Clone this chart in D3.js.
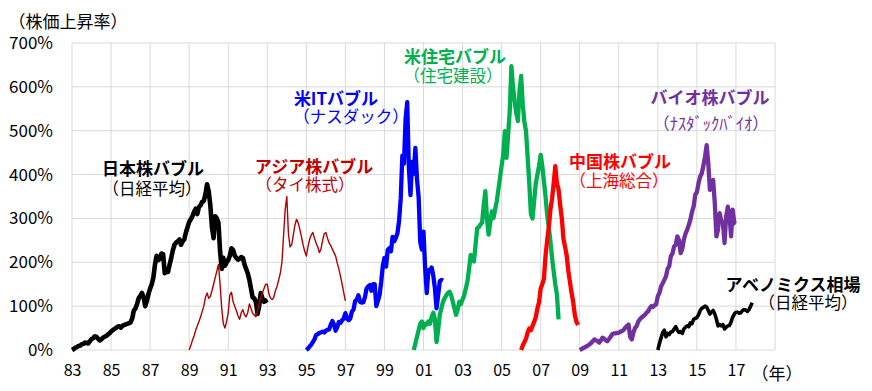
<!DOCTYPE html>
<html><head><meta charset="utf-8">
<script src="https://cdn.jsdelivr.net/npm/d3@7"></script>
<style>
html,body{margin:0;padding:0;background:#fff;}
svg text{font-family:"Noto Sans CJK JP","Noto Sans",sans-serif;}
</style></head>
<body><svg id="c" width="872" height="391"></svg>
<script>
// ---- data (percent rise, monthly points) ----
const yTicks = [0,100,200,300,400,500,600,700];
const xTickYears = [1983,1985,1987,1989,1991,1993,1995,1997,1999,2001,2003,2005,2007,2009,2011,2013,2015,2017];
const xTickLabels = ["83","85","87","89","91","93","95","97","99","01","03","05","07","09","11","13","15","17"];

const japanStart = 1983.0;
const japanValues = [
 0,2,5,7,9,10,13,14,17,16,15,20,
 25,27,31,30,26,22,24,28,30,32,35,38,
 42,45,48,50,53,54,51,55,57,58,60,61,
 63,72,90,95,105,118,124,130,120,100,112,128,
 140,150,165,195,215,205,208,220,218,175,182,178,
 195,210,228,240,245,248,252,240,248,252,268,280,
 292,298,305,315,322,310,326,330,338,340,355,378,
 362,330,280,255,305,300,290,225,185,210,192,200,
 205,215,232,228,215,210,206,208,212,210,195,185,
 175,160,140,120,118,110,82,100,130,118,110,112,
 115];

const asiaStart = 1989.0;
const asiaValues = [
 0,10,22,32,45,55,65,75,88,100,120,130,
 118,122,135,150,165,180,195,150,95,60,50,65,
 85,125,132,110,100,90,78,70,85,92,80,76,
 85,105,95,84,80,76,90,108,120,130,140,150,
 150,128,118,115,120,135,145,160,175,200,260,320,
 350,265,235,240,262,285,298,290,275,258,240,225,
 214,235,252,262,268,255,244,235,222,230,250,265,
 268,255,244,238,230,222,214,198,185,168,150,130,
 112];

const nasdaqStart = 1995.0;
const nasdaqValues = [
 0,3,8,12,18,24,34,36,39,40,42,40,
 44,46,47,58,66,58,44,52,64,62,68,72,
 84,72,68,72,88,92,112,115,125,110,108,109,
 120,140,145,148,135,150,150,100,112,125,155,192,
 210,190,228,232,225,258,248,256,266,295,345,443,
 425,527,565,415,353,429,402,461,390,349,246,229,
 270,187,130,182,181,188,170,141,95,125,157,160,
 158];

const housingStart = 2000.5;
const housingValues = [
 0,15,30,45,60,65,
 50,60,58,65,60,75,85,70,18,45,80,95,
 110,118,125,130,133,125,110,95,80,92,110,105,
 115,125,140,156,185,217,205,202,240,278,280,286,
 290,330,362,300,263,290,316,301,320,339,365,392,
 420,445,499,438,490,545,647,600,567,540,522,590,
 625,560,520,499,440,380,310,300,340,380,400,420,
 445,420,385,350,308,280,248,210,179,150,126,70];

const chinaStart = 2006.0;
const chinaValues = [
 0,10,18,26,40,49,45,55,64,75,95,109,
 140,150,162,215,250,280,320,345,380,419,380,366,
 330,300,253,235,215,180,155,130,109,80,64,57];

const bioStart = 2009.0;
const bioValues = [
 0,2,4,6,8,10,13,16,20,24,22,20,
 17,22,28,26,22,20,25,30,36,38,38,39,
 39,42,43,46,51,55,58,30,24,40,50,55,
 65,70,74,77,80,85,88,95,100,98,102,104,
 123,130,145,152,160,168,185,191,214,220,236,240,
 259,250,221,230,252,265,274,285,297,315,327,354,
 360,380,395,403,420,441,467,426,365,375,388,335,
 259,275,312,295,289,244,305,327,310,259,320,290,
 288];

const abeStart = 2013.0;
const abeValues = [
 0,15,28,40,45,30,38,35,41,42,48,53,
 45,40,42,38,48,52,55,53,62,60,70,72,
 74,80,90,95,97,100,98,90,82,87,90,82,
 70,55,58,55,58,48,52,55,56,64,75,82,
 86,86,84,85,90,92,91,88,92,100,108];

const series = [
 {start: japanStart, values: japanValues, color: "#000000", width: 4.6},
 {start: asiaStart, values: asiaValues, color: "#b00000", width: 1.4},
 {start: nasdaqStart, values: nasdaqValues, color: "#0000ff", width: 4.3},
 {start: housingStart, values: housingValues, color: "#00b050", width: 4.3},
 {start: chinaStart, values: chinaValues, color: "#ff0000", width: 4.3},
 {start: bioStart, values: bioValues, color: "#7030a0", width: 4.3},
 {start: abeStart, values: abeValues, color: "#000000", width: 3.6}
];

const labels = [
 {t:"日本株バブル", x:153, y:167, c:"#000000", b:true},
 {t:"（日経平均）", x:152, y:188, c:"#000000", b:false},
 {t:"アジア株バブル", x:314, y:165, c:"#c00000", b:true},
 {t:"（タイ株式）", x:305, y:184, c:"#c00000", b:false},
 {t:"米ITバブル", x:336, y:97, c:"#0000ff", b:true},
 {t:"（ナスダック）", x:351, y:116, c:"#0000ff", b:false},
 {t:"米住宅バブル", x:455, y:55, c:"#00b050", b:true},
 {t:"（住宅建設）", x:453, y:75, c:"#00b050", b:false},
 {t:"中国株バブル", x:620, y:160, c:"#ff0000", b:true},
 {t:"（上海総合）", x:619, y:180, c:"#ff0000", b:false},
 {t:"バイオ株バブル", x:710, y:96, c:"#7030a0", b:true},
 {t:"（ﾅｽﾀﾞｯｸﾊﾞｲｵ）", x:711, y:123, c:"#7030a0", b:false},
 {t:"アベノミクス相場", x:793, y:283, c:"#000000", b:true},
 {t:"（日経平均）", x:808, y:302, c:"#000000", b:false}
];

// ---- drawing ----
const svg = d3.select("#c");
const x = d3.scaleLinear().domain([1983, 2019]).range([72, 775]);
const y = d3.scaleLinear().domain([0, 700]).range([350, 43]);

const grid = svg.append("g");
grid.selectAll("line.h").data(yTicks).join("line")
  .attr("x1", x(1983)).attr("x2", x(2019))
  .attr("y1", d => y(d)).attr("y2", d => y(d))
  .attr("stroke", "#d9d9d9").attr("stroke-width", 1);
const vYears = xTickYears.concat([2019]);
grid.selectAll("line.v").data(vYears).join("line")
  .attr("x1", d => x(d)).attr("x2", d => x(d))
  .attr("y1", y(0)).attr("y2", y(700))
  .attr("stroke", "#d9d9d9").attr("stroke-width", 1);

// y axis labels
const yAxis = d3.axisLeft(y).tickValues(yTicks).tickFormat(d => d + "%").tickSize(0).tickPadding(0);
const ga = svg.append("g").attr("transform", "translate(53,0)").call(yAxis);
ga.select(".domain").remove();
ga.selectAll("text").attr("font-size", 17).attr("fill", "#000").attr("font-family", '"DejaVu Sans"');

// x axis labels
const xAxis = d3.axisBottom(x).tickValues(xTickYears).tickFormat((d, i) => xTickLabels[i]).tickSize(0).tickPadding(0);
const gx = svg.append("g").attr("transform", "translate(0,365)").call(xAxis);
gx.select(".domain").remove();
gx.selectAll("text").attr("font-size", 16).attr("fill", "#000").attr("font-family", '"DejaVu Sans"');

// series lines
const line = d3.line().x(d => x(d[0])).y(d => y(d[1]));
series.forEach(s => {
  const pts = s.values.map((v, i) => [s.start + i / 12, v]);
  svg.append("path").datum(pts)
    .attr("d", line)
    .attr("fill", "none")
    .attr("stroke", s.color)
    .attr("stroke-width", s.width)
    .attr("stroke-linejoin", "round");
});

// labels
svg.selectAll("text.lbl").data(labels).join("text")
  .attr("class", "lbl")
  .attr("x", d => d.x).attr("y", d => d.y)
  .attr("text-anchor", "middle").attr("dominant-baseline", "central")
  .attr("font-size", d => d.b ? 17 : 16.5)
  .attr("font-weight", d => d.b ? "bold" : "normal")
  .attr("fill", d => d.c)
  .text(d => d.t);

svg.append("text").attr("x", 68).attr("y", 20)
  .attr("text-anchor", "middle").attr("dominant-baseline", "central")
  .attr("font-size", 17).attr("fill", "#000").text("（株価上昇率）");
svg.append("text").attr("x", 777).attr("y", 372)
  .attr("text-anchor", "middle").attr("dominant-baseline", "central")
  .attr("font-size", 17).attr("fill", "#000").text("（年）");
</script>
</body></html>
